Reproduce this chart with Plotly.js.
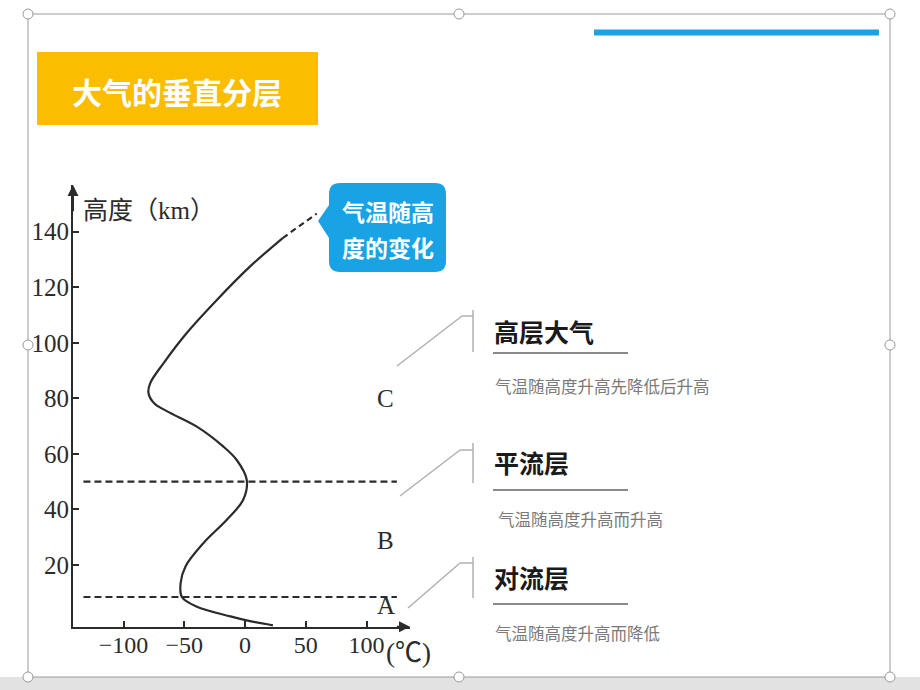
<!DOCTYPE html>
<html>
<head>
<meta charset="utf-8">
<script src="https://cdn.plot.ly/plotly-3.0.1.min.js"></script>
<style>html,body{margin:0;padding:0;background:#fff;}#chart{width:920px;height:690px;}</style>
</head>
<body>
<div id="chart"></div>
<script>
// ---- data ----
const tempC = [23, 4, -12, -40, -52, -53, -49, -34, -15, -1.5, 1.4, -7, -18, -40, -64, -75, -79.5, -78, -67, -49, -23, 4, 31];
const heightKm = [-1.7, -0.2, 1.5, 5.1, 8.5, 13.6, 19.5, 28, 36.3, 43.5, 50.7, 57.9, 62.7, 69.9, 75.3, 78.3, 82, 85.5, 92.7, 103, 115.5, 127.4, 137.7];
const tempDash = [31, 45, 59];
const heightDash = [137.7, 142, 146.5];
const layerBounds = [8.5, 50];
const layerLetters = ['A', 'B', 'C'];
const letterHeights = [5.6, 29, 80];
const xTicks = [-100, -50, 0, 50, 100];
const yTicks = [20, 40, 60, 80, 100, 120, 140];
const layerNames = ['高层大气', '平流层', '对流层'];
const layerDescs = ['气温随高度升高先降低后升高', '气温随高度升高而升高', '气温随高度升高而降低'];
const pageTitle = '大气的垂直分层';
const calloutLines = ['气温随高', '度的变化'];
const yTitle = '高度（km）';
const xUnit = '(℃)';

// ---- geometry helpers ----
const W = 920, H = 690;
const px = v => v / W;
const py = v => 1 - v / H;
const xRange = [-141.6, 135.8];
const yRange = [-2.2, 156.8];
const serif = 'Liberation Serif, Noto Sans CJK SC, serif';
const sans = 'Noto Sans CJK SC, sans-serif';
const ink = '#2b2b2b';

const traces = [];
traces.push({x: tempC, y: heightKm, type: 'scatter', mode: 'lines',
  line: {color: ink, width: 2.2, shape: 'spline', smoothing: 1}, hoverinfo: 'skip'});
traces.push({x: tempDash, y: heightDash, type: 'scatter', mode: 'lines',
  line: {color: ink, width: 2.2, dash: '6px,4px'}, hoverinfo: 'skip'});
layerBounds.forEach(h => {
  traces.push({x: [-133, 125], y: [h, h], type: 'scatter', mode: 'lines',
    line: {color: ink, width: 2.2, dash: '7px,4px'}, hoverinfo: 'skip'});
});

const annotations = [];
const ann = o => annotations.push(Object.assign({showarrow: false, xanchor: 'center', yanchor: 'middle'}, o));
// axis arrows
annotations.push({x: xRange[1], y: yRange[0], ax: xRange[1] - 12, ay: yRange[0], xref: 'x', yref: 'y', axref: 'x', ayref: 'y',
  showarrow: true, arrowhead: 2, arrowsize: 1.1, arrowwidth: 2, arrowcolor: ink, text: ''});
annotations.push({x: xRange[0], y: yRange[1], ax: xRange[0], ay: yRange[1] - 10, xref: 'x', yref: 'y', axref: 'x', ayref: 'y',
  showarrow: true, arrowhead: 2, arrowsize: 1.1, arrowwidth: 2, arrowcolor: ink, text: ''});
// axis titles
ann({xref: 'paper', yref: 'paper', x: px(81), y: py(211), xanchor: 'left', text: yTitle, font: {family: serif, size: 25, color: ink}});
ann({xref: 'paper', yref: 'paper', x: px(384), y: py(653), xanchor: 'left', text: xUnit, font: {family: serif, size: 27, color: ink}});
// layer letters
layerLetters.forEach((l, i) => {
  ann({xref: 'x', yref: 'y', x: 116, y: letterHeights[i], text: l, font: {family: serif, size: 25, color: ink}});
});
// title
ann({xref: 'paper', yref: 'paper', x: px(177), y: py(91), text: '<b>' + pageTitle + '</b>', font: {family: sans, size: 30, color: '#ffffff'}});
// callout text
calloutLines.forEach((t, i) => {
  ann({xref: 'paper', yref: 'paper', x: px(388), y: py(211 + i * 36), text: '<b>' + t + '</b>', font: {family: sans, size: 23, color: '#ffffff'}});
});
// right side labels
const headY = [331, 462, 577];
const ulY = [353, 490, 604];
const descY = [386, 519, 633];
layerNames.forEach((n, i) => {
  ann({xref: 'paper', yref: 'paper', x: px(492), y: py(headY[i]), xanchor: 'left', text: '<b>' + n + '</b>', font: {family: sans, size: 25, color: '#1a1a1a'}});
  ann({xref: 'paper', yref: 'paper', x: px(493 + (i === 1 ? 3 : 0)), y: py(descY[i]), xanchor: 'left', text: layerDescs[i], font: {family: sans, size: 16.5, color: '#7a7a7a'}});
});

const shapes = [];
// outer grey band under the slide
shapes.push({type: 'rect', xref: 'paper', yref: 'paper', x0: 0, x1: 1, y0: 0, y1: py(677), fillcolor: '#e2e2e2', line: {width: 0}});
// slide frame
shapes.push({type: 'rect', xref: 'paper', yref: 'paper', x0: px(28), x1: px(890), y0: py(677), y1: py(14), line: {color: '#9a9a9a', width: 1}});
// handles
[[28,14],[459,14],[890,14],[28,345],[890,345],[28,677],[459,677],[890,677]].forEach(([cx, cy]) => {
  shapes.push({type: 'circle', xref: 'paper', yref: 'paper', x0: px(cx - 5), x1: px(cx + 5), y0: py(cy + 5), y1: py(cy - 5),
    fillcolor: '#ffffff', line: {color: '#999', width: 1}});
});
// top blue bar
shapes.push({type: 'rect', xref: 'paper', yref: 'paper', x0: px(594), x1: px(879), y0: py(35.5), y1: py(29.5), fillcolor: '#19a4e6', line: {width: 0}});
// title banner
shapes.push({type: 'rect', xref: 'paper', yref: 'paper', x0: px(37), x1: px(318), y0: py(125), y1: py(52), fillcolor: '#fabd00', line: {width: 0}, layer: 'below'});
// callout bubble
(function () {
  const L = 329, R = 446, T = 183, B = 272, r = 11;
  const P = (x, y) => px(x) + ',' + py(y);
  const path = 'M' + P(L + r, T) + ' L' + P(R - r, T) + ' Q' + P(R, T) + ' ' + P(R, T + r) +
    ' L' + P(R, B - r) + ' Q' + P(R, B) + ' ' + P(R - r, B) + ' L' + P(L + r, B) + ' Q' + P(L, B) + ' ' + P(L, B - r) +
    ' L' + P(L, 238) + ' L' + P(318, 221) + ' L' + P(L, 205) + ' L' + P(L, T + r) + ' Q' + P(L, T) + ' ' + P(L + r, T) + ' Z';
  shapes.push({type: 'path', xref: 'paper', yref: 'paper', path: path, fillcolor: '#1aa3e4', line: {width: 0}, layer: 'below'});
})();
// connectors and underlines
const conn = [
  [[397, 366], [462, 316], [473, 316]],
  [[400, 496], [460, 450], [473, 450]],
  [[408, 608], [460, 563], [473, 563]]
];
const brk = [[310, 352], [443, 483], [557, 598]];
conn.forEach((c, i) => {
  for (let k = 0; k < c.length - 1; k++) {
    shapes.push({type: 'line', xref: 'paper', yref: 'paper', x0: px(c[k][0]), y0: py(c[k][1]), x1: px(c[k + 1][0]), y1: py(c[k + 1][1]),
      line: {color: '#b0b0b0', width: 1.5}});
  }
  shapes.push({type: 'line', xref: 'paper', yref: 'paper', x0: px(473), y0: py(brk[i][0]), x1: px(473), y1: py(brk[i][1]),
    line: {color: '#b0b0b0', width: 1.5}});
  shapes.push({type: 'line', xref: 'paper', yref: 'paper', x0: px(493), y0: py(ulY[i]), x1: px(628), y1: py(ulY[i]),
    line: {color: '#8a8a8a', width: 2}});
});

const layout = {
  width: W, height: H,
  margin: {l: 0, r: 0, t: 0, b: 0},
  paper_bgcolor: '#ffffff', plot_bgcolor: 'rgba(0,0,0,0)',
  showlegend: false,
  xaxis: {domain: [px(73), px(410)], range: xRange, showgrid: false, zeroline: false,
    showline: true, linecolor: ink, linewidth: 2, ticks: 'inside', ticklen: 6, tickwidth: 2, tickcolor: ink,
    tickvals: xTicks, ticktext: xTicks.map(v => v < 0 ? '−' + Math.abs(v) : String(v)), ticklabelstandoff: -5,
    tickfont: {family: serif, size: 24, color: ink}, fixedrange: true},
  yaxis: {domain: [py(626.7), py(185)], range: yRange, showgrid: false, zeroline: false,
    showline: true, linecolor: ink, linewidth: 2, ticks: 'inside', ticklen: 6, tickwidth: 2, tickcolor: ink,
    tickvals: yTicks, ticklabelstandoff: -3, tickfont: {family: serif, size: 25, color: ink}, fixedrange: true},
  annotations: annotations,
  shapes: shapes
};

Plotly.newPlot('chart', traces, layout, {staticPlot: true, displayModeBar: false});
</script>
</body>
</html>
